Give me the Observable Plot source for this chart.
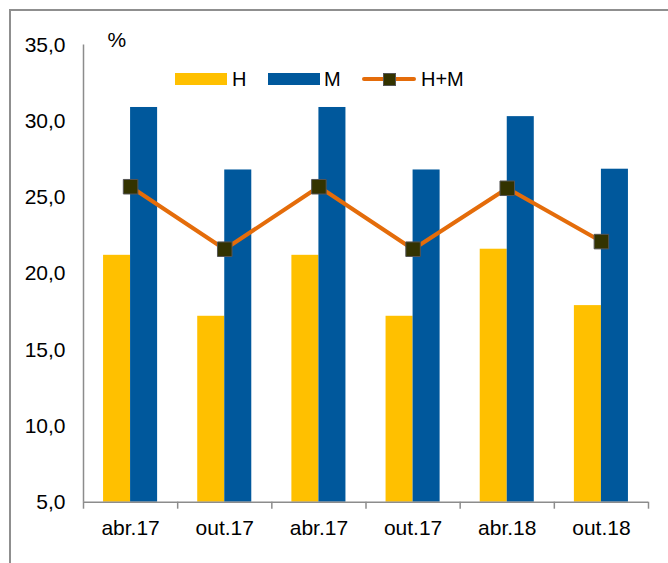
<!DOCTYPE html>
<html><head><meta charset="utf-8">
<script src="https://cdn.jsdelivr.net/npm/d3@7"></script>
<script src="https://cdn.jsdelivr.net/npm/@observablehq/plot@0.6"></script>
<style>
html,body{margin:0;padding:0;background:#fff;overflow:hidden;width:668px;height:563px;}
#wrap{position:relative;width:668px;height:563px;font-family:"Liberation Sans",Arial,sans-serif;}
#frame{position:absolute;left:9px;top:9px;width:700px;height:600px;border:2px solid #8f8f8f;box-sizing:border-box;}
#chart{position:absolute;left:0;top:0;}
.lg{position:absolute;font-size:20px;color:#000;line-height:20px;}
.sw{position:absolute;}
</style></head>
<body><div id="wrap"><div id="frame"></div><div id="chart"></div>
<div class="sw" style="left:175px;top:73px;width:52px;height:12px;background:#FFC000"></div>
<div class="lg" style="left:232px;top:69px">H</div>
<div class="sw" style="left:268px;top:73px;width:52px;height:12px;background:#00589C"></div>
<div class="lg" style="left:324px;top:69px">M</div>
<div class="sw" style="left:362px;top:77px;width:54px;height:4px;background:#E46C0A;border-radius:2px"></div>
<div class="sw" style="left:383px;top:73px;width:11px;height:11px;background:#333300;border:1px solid #555"></div>
<div class="lg" style="left:421px;top:69px">H+M</div>
</div>
<script>
const labels = ["abr.17","out.17","abr.17","out.17","abr.18","out.18"];
const H = [21.2, 17.2, 21.2, 17.2, 21.6, 17.9];
const M = [30.9, 26.8, 30.9, 26.8, 30.3, 26.85];
const HM = [25.7, 21.6, 25.7, 21.6, 25.6, 22.1];
const yTicks = [5,10,15,20,25,30,35];

const barW = 0.287;
const rows = labels.map((l,i)=>({i, label:l, H:H[i], M:M[i], HM:HM[i]}));
const fmt = d => d.toFixed(1).replace(".", ",");
const font = "Liberation Sans, Arial, sans-serif";

const plot = Plot.plot({
  width: 668, height: 563,
  marginLeft: 83, marginRight: 20, marginTop: 44.5, marginBottom: 61.3,
  style: {fontFamily: font, fontSize: "21px", color: "#000", background: "transparent"},
  x: {domain: [0, 6], axis: null},
  y: {domain: [5, 35], axis: null},
  marks: [
    Plot.rectY(rows, {x1: d => d.i + 0.5 - barW, x2: d => d.i + 0.5, y1: 5, y2: "H", fill: "#FFC000"}),
    Plot.rectY(rows, {x1: d => d.i + 0.5, x2: d => d.i + 0.5 + barW, y1: 5, y2: "M", fill: "#00589C"}),
    Plot.ruleX([0], {y1: 5, y2: 35, stroke: "#8c8c8c", strokeWidth: 1.5}),
    Plot.ruleY([5], {x1: 0, x2: 6, stroke: "#8c8c8c", strokeWidth: 1.5}),
    Plot.axisY({ticks: yTicks, tickSize: 0, tickPadding: 18, tickFormat: fmt, fontSize: 21}),
    Plot.axisX({ticks: d3.range(0, 7), tickSize: 7, tickFormat: () => "", stroke: "#8c8c8c", strokeWidth: 1.5}),
    Plot.axisX({ticks: labels.map((l,i)=>i+0.5), tickSize: 0, tickPadding: 18, tickFormat: d => labels[Math.round(d - 0.5)], fontSize: 21}),
    Plot.line(rows, {x: d => d.i + 0.5, y: "HM", stroke: "#E46C0A", strokeWidth: 4}),
    Plot.dot(rows, {x: d => d.i + 0.5, y: "HM", symbol: "square", r: 8.2, fill: "#333300", stroke: "#555", strokeWidth: 1}),
    Plot.text(["%"], {frameAnchor: "top-left", dx: 24, dy: -13, text: d => d, fontSize: 21, textAnchor: "start"})
  ]
});
document.getElementById("chart").appendChild(plot);
</script></body></html>
